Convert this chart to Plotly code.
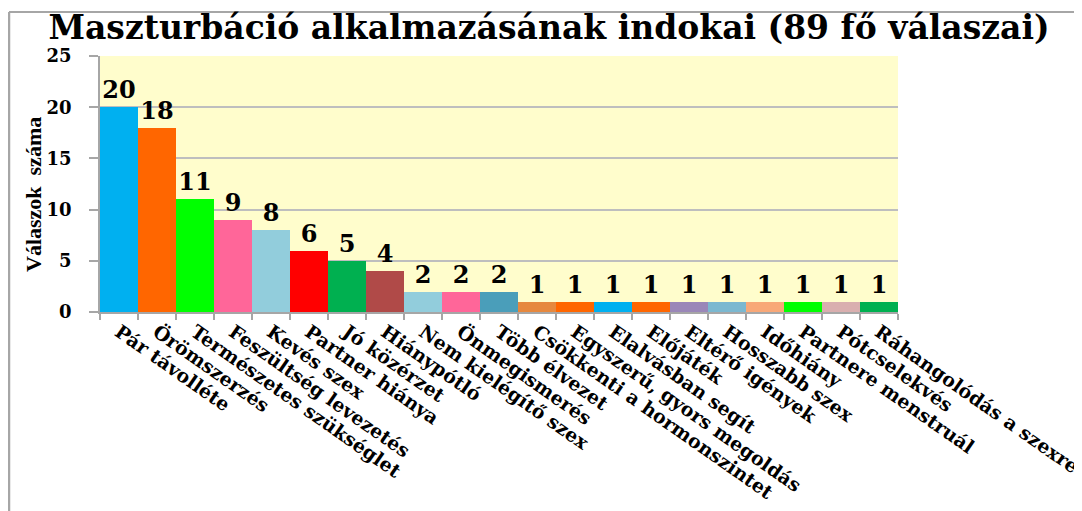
import plotly.graph_objects as go

categories = [
    "Pár távolléte", "Örömszerzés", "Természetes szükséglet", "Feszültség levezetés",
    "Kevés szex", "Partner hiánya", "Jó közérzet", "Hiánypótló", "Nem kielégítő szex",
    "Önmegismerés", "Több élvezet", "Csökkenti a hormonszintet", "Egyszerű, gyors megoldás",
    "Elalvásban segít", "Előjáték", "Eltérő igények", "Hosszabb szex", "Időhiány",
    "Partnere menstruál", "Pótcselekvés", "Ráhangolódás a szexre",
]
values = [20, 18, 11, 9, 8, 6, 5, 4, 2, 2, 2, 1, 1, 1, 1, 1, 1, 1, 1, 1, 1]
bar_colors = [
    "#00B0F0", "#FF6600", "#00FF00", "#FF6699", "#92CDDC", "#FF0000", "#00B050",
    "#B04A48", "#92CDDC", "#FF6699", "#4A9EBA", "#E6883E", "#FF6600", "#00B0F0",
    "#FF6600", "#9A87B8", "#7BB8D0", "#F8A878", "#00FF00", "#D9AFAF", "#00B050",
]
y_ticks = [0, 5, 10, 15, 20, 25]

title_text = "Maszturbáció alkalmazásának indokai (89 fő válaszai)"
y_title = "Válaszok  száma"

# page offset (body margin) compensation
OFF = 8
W, H = 1082 - OFF, 511 - OFF
PL, PR, PT, PB = 100, 898, 56, 312  # plot area in screen pixels
ML, MT = PL - OFF, PT - OFF
pw, ph = PR - PL, PB - PT
MR = W - ML - pw
MB = H - MT - ph


def px_x(p):
    return (p - PL) / pw


def px_y(p):
    return (PB - p) / ph


serif_wide = "DejaVu Serif"
serif = "Liberation Serif, Times New Roman, serif"

fig = go.Figure(
    go.Bar(
        x=categories,
        y=values,
        marker=dict(color=bar_colors, line=dict(width=0)),
        text=[str(v) for v in values],
        textposition="outside",
        textfont=dict(family=serif_wide, size=24, color="black", weight="bold"),
        cliponaxis=False,
        showlegend=False,
    )
)

fig.update_layout(
    width=W,
    height=H,
    margin=dict(l=ML, r=MR, t=MT, b=MB, autoexpand=False),
    paper_bgcolor="white",
    plot_bgcolor="#FFFDCC",
    bargap=0,
    title=dict(
        text=title_text,
        font=dict(family=serif_wide, size=33, color="black", weight="bold"),
        x=(549 - OFF) / W,
        xanchor="center",
        xref="container",
        y=1 - (27 - OFF) / H,
        yanchor="middle",
    ),
    shapes=[
        dict(type="line", xref="paper", yref="paper",
             x0=px_x(9), x1=px_x(9), y0=px_y(12), y1=px_y(530),
             line=dict(color="#A6A6A6", width=2.5)),
        dict(type="line", xref="paper", yref="paper",
             x0=px_x(9), x1=px_x(1100), y0=px_y(12), y1=px_y(12),
             line=dict(color="#A6A6A6", width=2)),
    ],
    annotations=[
        dict(text=y_title, xref="paper", yref="paper",
             x=px_x(33), y=px_y(195), xanchor="center", yanchor="middle",
             textangle=-90, showarrow=False,
             font=dict(family=serif, size=22, color="black", weight="bold")),
    ],
)

fig.update_xaxes(
    type="category",
    tickangle=35,
    tickfont=dict(family=serif_wide, size=19, color="black", weight="bold"),
    showline=True,
    linecolor="#A6A6A6",
    linewidth=1.5,
    ticks="outside",
    tickson="boundaries",
    ticklen=6,
    tickcolor="#A6A6A6",
    tickwidth=1.5,
    showgrid=False,
)

fig.update_yaxes(
    range=[0, 25],
    tickvals=y_ticks,
    tickfont=dict(family=serif_wide, size=18, color="black", weight="bold"),
    ticklabelstandoff=14,
    showline=True,
    linecolor="#A6A6A6",
    linewidth=1.5,
    ticks="outside",
    ticklen=9,
    tickcolor="#A6A6A6",
    tickwidth=1.5,
    showgrid=True,
    gridcolor="#BEBEBE",
    gridwidth=1.5,
    zeroline=False,
)

fig.write_html("out.html")
